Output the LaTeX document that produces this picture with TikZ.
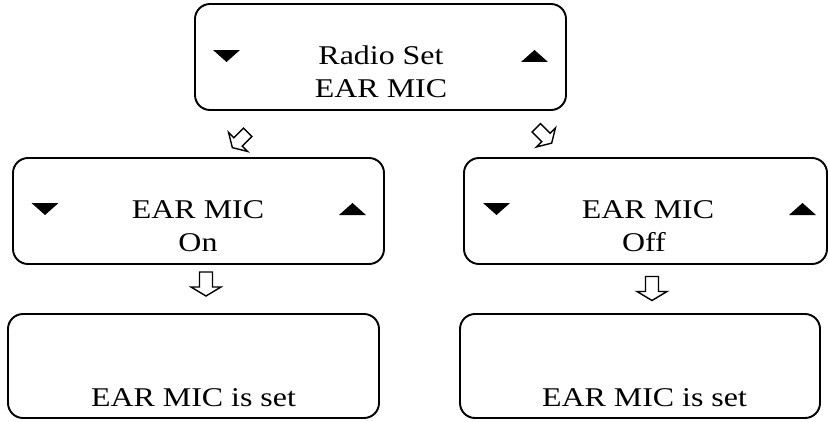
\documentclass[tikz,border=0pt]{standalone}
\usepackage{fontspec}
\setmainfont{Liberation Serif}
\tikzset{
  screen/.style={draw, line width=1.1pt, rounded corners=0.3cm, minimum width=7.42cm, minimum height=2.12cm, inner sep=0pt},
  txt/.style={font=\fontsize{15.4}{18}\selectfont, inner sep=0pt, anchor=base, xscale=1.18},
  hollow/.pic={\draw[line width=0.8pt, fill=white] (-0.13,0.24) -- (0.13,0.24) -- (0.13,-0.06) -- (0.3,-0.06) -- (0,-0.24) -- (-0.3,-0.06) -- (-0.13,-0.06) -- cycle;}
}
\newcommand{\tridown}[2]{\fill (#1,#2) ++(-0.27,0.12) -- ++(0.54,0) -- ++(-0.27,-0.24) -- cycle;}
\newcommand{\triup}[2]{\fill (#1,#2) ++(-0.27,-0.12) -- ++(0.54,0) -- ++(-0.27,0.24) -- cycle;}
\begin{document}
\begin{tikzpicture}[scale=1.0]
    \useasboundingbox (0,0) rectangle (16.56,8.42);

    % Radio set screen
    \node[screen] (radio) at (7.61,7.28) {};
    \node[txt] (radio1) at (7.62,7.14) {Radio Set};
    \node[txt] (radio2) at (7.62,6.48) {EAR MIC};
    \tridown{4.53}{7.30}
    \triup{10.69}{7.30}

    % EAR MIC on screen
    \node[screen] (micon) at (3.97,4.20) {};
    \node[txt] (on1) at (3.96,4.06) {EAR MIC};
    \node[txt] (on2) at (3.96,3.40) {On};
    \tridown{0.90}{4.24}
    \triup{7.05}{4.24}

    % EAR MIC off screen
    \node[screen, minimum width=7.26cm] (micoff) at (12.91,4.20) {};
    \node[txt] (off1) at (12.96,4.06) {EAR MIC};
    \node[txt] (off2) at (12.88,3.40) {Off};
    \tridown{9.93}{4.24}
    \triup{16.05}{4.24}

    % Confirmation screens
    \node[screen, minimum height=2.08cm] (seton) at (3.87,1.10) {};
    \node[txt] (set1) at (3.87,0.30) {EAR MIC is set};
    \node[screen, minimum width=7.20cm, minimum height=2.08cm] (setoff) at (12.80,1.10) {};
    \node[txt] (set2) at (12.89,0.30) {EAR MIC is set};

    % Hollow arrows
    \pic[rotate=-45, scale=0.9] (arrl) at (4.80,5.62) {hollow};
    \pic[rotate=45, scale=0.9] (arrr) at (10.88,5.71) {hollow};
    \pic (arron) at (4.12,2.74) {hollow};
    \pic (arroff) at (13.04,2.65) {hollow};
\end{tikzpicture}
\end{document}
